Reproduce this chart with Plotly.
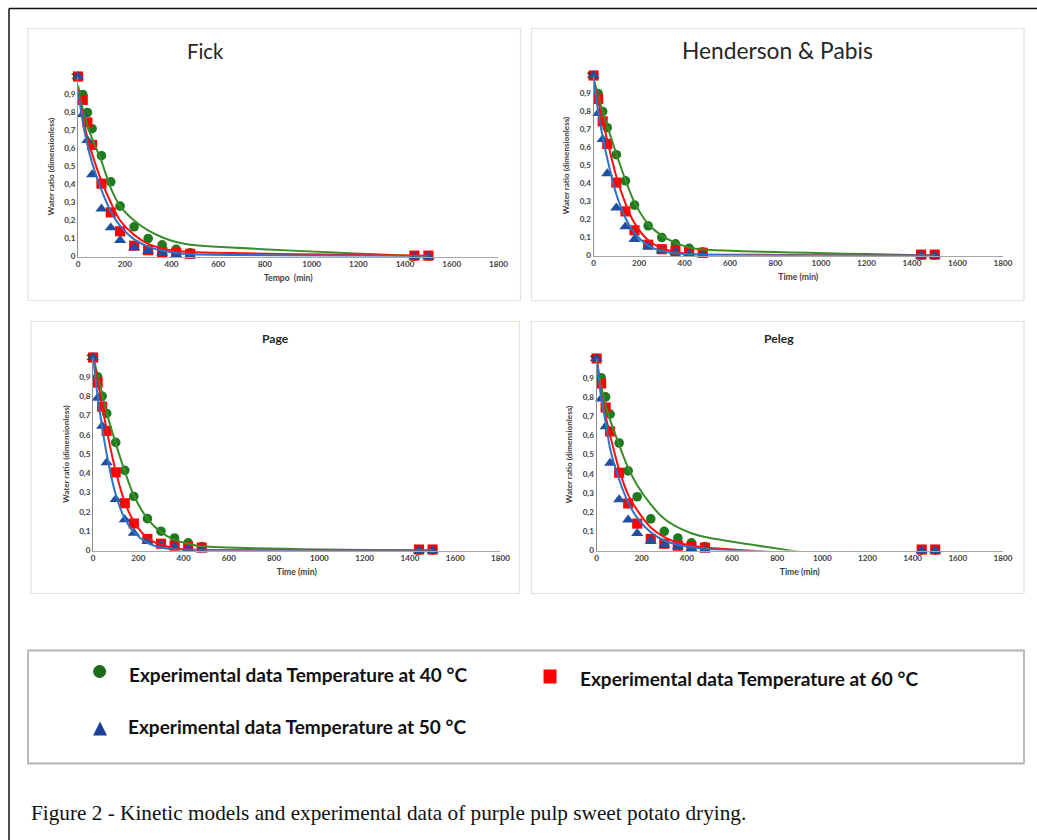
import plotly.graph_objects as go

# reference pixel frame used for all positions
W, H = 1037, 840
# page size (the photographed page is slightly scaled/offset; compensate)
FIG_W, FIG_H = 1050, 850
K = FIG_W / W
DX, DY = -2.0, -4.5

# ---------------- data ----------------
time_min = [0, 20, 40, 60, 100, 140, 180, 240, 300, 360, 420, 480, 1440, 1500]

exp_40 = [1.0, 0.90, 0.80, 0.71, 0.56, 0.415, 0.28, 0.165, 0.10, 0.065, 0.04, 0.02, 0.002, 0.002]
exp_50 = [1.0, 0.79, 0.645, 0.455, 0.265, 0.16, 0.09, 0.05, 0.03, 0.02, 0.01, 0.005, 0.0, 0.0]
exp_60 = [1.0, 0.87, 0.745, 0.62, 0.405, 0.245, 0.14, 0.06, 0.035, 0.025, 0.02, 0.015, 0.005, 0.005]

fick_40 = [0.95, 0.82, 0.73, 0.655, 0.53, 0.38, 0.28, 0.20, 0.145, 0.107, 0.08, 0.065, 0.003, 0.0]
fick_50 = [0.92, 0.75, 0.62, 0.52, 0.37, 0.25, 0.17, 0.095, 0.055, 0.033, 0.02, 0.013, 0.002, 0.001]
fick_60 = [0.93, 0.78, 0.66, 0.57, 0.42, 0.30, 0.20, 0.12, 0.07, 0.045, 0.032, 0.025, 0.005, 0.004]

hp_40 = [0.98, 0.89, 0.80, 0.72, 0.565, 0.42, 0.295, 0.175, 0.11, 0.07, 0.045, 0.033, 0.002, 0.001]
hp_50 = [0.98, 0.80, 0.66, 0.54, 0.34, 0.21, 0.125, 0.055, 0.025, 0.012, 0.006, 0.003, 0.0, 0.0]
hp_60 = [0.98, 0.86, 0.75, 0.64, 0.44, 0.29, 0.18, 0.085, 0.04, 0.02, 0.01, 0.006, 0.0, 0.0]

page_40 = [1.0, 0.91, 0.81, 0.715, 0.555, 0.41, 0.285, 0.165, 0.095, 0.055, 0.035, 0.022, 0.0, 0.0]
page_50 = [1.0, 0.80, 0.64, 0.50, 0.29, 0.165, 0.095, 0.04, 0.016, 0.006, 0.002, 0.001, 0.0, 0.0]
page_60 = [1.0, 0.88, 0.75, 0.625, 0.41, 0.25, 0.15, 0.065, 0.03, 0.012, 0.005, 0.002, 0.0, 0.0]

peleg_40 = [1.0, 0.86, 0.76, 0.68, 0.55, 0.43, 0.34, 0.24, 0.165, 0.12, 0.09, 0.07, -0.10, -0.11]
peleg_50 = [1.0, 0.80, 0.67, 0.53, 0.37, 0.25, 0.17, 0.095, 0.052, 0.03, 0.017, 0.008, -0.036, -0.04]
peleg_60 = [1.0, 0.82, 0.70, 0.60, 0.42, 0.29, 0.21, 0.12, 0.07, 0.042, 0.026, 0.015, -0.053, -0.057]

y_tickvals = [0, 0.1, 0.2, 0.3, 0.4, 0.5, 0.6, 0.7, 0.8, 0.9, 1.0]
y_ticktext = ["0", "0,1", "0,2", "0,3", "0,4", "0,5", "0,6", "0,7", "0,8", "0,9", "1"]
x_tickvals = [0, 200, 400, 600, 800, 1000, 1200, 1400, 1600, 1800]

panel_titles = ["Fick", "Henderson & Pabis", "Page", "Peleg"]
x_titles = ["Tempo  (min)", "Time (min)", "Time (min)", "Time (min)"]
y_title = "Water ratio (dimensionless)"
legend_labels = ["Experimental data Temperature at 40 °C",
                 "Experimental data Temperature at 50 °C",
                 "Experimental data Temperature at 60 °C"]
caption = "Figure 2 - Kinetic models and experimental data of purple pulp sweet potato drying."

models = [(fick_40, fick_50, fick_60), (hp_40, hp_50, hp_60),
          (page_40, page_50, page_60), (peleg_40, peleg_50, peleg_60)]

# ---------------- styling / layout ----------------
GREEN_M, GREEN_L = "#1f7a1f", "#3a8d2a"
BLUE_M, BLUE_L = "#1f4f9e", "#2f73c6"
RED_M, RED_L = "#ff0000", "#ff1010"
FONT = "Lato"
TXT = "#404040"

def fx(p):
    return (p + DX) / W

def fy(p):
    return 1 - (p + DY) / H

def s(v):
    return v * K

# plot-area pixel boxes: (left, right, top, bottom)
boxes = [(78, 498, 76, 256), (593, 1002, 75, 255), (93, 500, 357, 550), (596, 1002, 358, 550)]
# panel frames
frames = [(28, 520, 28, 300), (531, 1023, 28, 300), (31, 519, 321, 593), (531, 1023, 321, 593)]
title_pos = [(205, 50, 20), (777, 50, 22.5), (275, 338, 12), (778, 338, 12)]

fig = go.Figure()

for i in range(4):
    xa = "x" if i == 0 else f"x{i+1}"
    ya = "y" if i == 0 else f"y{i+1}"
    m40, m50, m60 = models[i]
    # experimental markers
    fig.add_trace(go.Scatter(x=time_min, y=exp_40, mode="markers", xaxis=xa, yaxis=ya,
                             marker=dict(symbol="circle", size=s(9.5), color=GREEN_M),
                             cliponaxis=False, showlegend=False))
    fig.add_trace(go.Scatter(x=time_min, y=exp_60, mode="markers", xaxis=xa, yaxis=ya,
                             marker=dict(symbol="square", size=s(10), color=RED_M),
                             cliponaxis=False, showlegend=False))
    fig.add_trace(go.Scatter(x=time_min, y=exp_50, mode="markers", xaxis=xa, yaxis=ya,
                             marker=dict(symbol="triangle-up", size=s(10.5), color=BLUE_M),
                             cliponaxis=False, showlegend=False))
    # model curves
    for yy, col in ((m40, GREEN_L), (m60, RED_L), (m50, BLUE_L)):
        fig.add_trace(go.Scatter(x=time_min, y=yy, mode="lines", xaxis=xa, yaxis=ya,
                                 line=dict(color=col, width=s(2), shape="spline", smoothing=0.8),
                                 showlegend=False))

layout_axes = {}
for i, (l, r, t, b) in enumerate(boxes):
    xk = "xaxis" if i == 0 else f"xaxis{i+1}"
    yk = "yaxis" if i == 0 else f"yaxis{i+1}"
    ya = "y" if i == 0 else f"y{i+1}"
    xa = "x" if i == 0 else f"x{i+1}"
    layout_axes[xk] = dict(domain=[fx(l), fx(r)], range=[0, 1800], anchor=ya,
                           tickvals=x_tickvals, showgrid=False, zeroline=False,
                           showline=True, linecolor="#a6a6a6", linewidth=1, ticks="",
                           tickfont=dict(family=FONT, size=s(8), color=TXT, weight="bold"),
                           title=dict(text=x_titles[i], standoff=s(6),
                                      font=dict(family=FONT, size=s(8.5), color=TXT, weight="bold")),
                           fixedrange=True)
    layout_axes[yk] = dict(domain=[fy(b), fy(t)], range=[0, 1], anchor=xa,
                           tickvals=y_tickvals, ticktext=y_ticktext, showgrid=False,
                           zeroline=False, showline=True, linecolor="#8c8c8c", linewidth=1,
                           ticks="", tickfont=dict(family=FONT, size=s(8), color=TXT, weight="bold"),
                           title=dict(text=y_title, standoff=s(8),
                                      font=dict(family=FONT, size=s(8), color=TXT, weight="bold")),
                           fixedrange=True)

shapes = []
# outer frame
shapes.append(dict(type="line", xref="paper", yref="paper", x0=fx(9), x1=1.0, y0=fy(8), y1=fy(8),
                   line=dict(color="#111111", width=1.5)))
shapes.append(dict(type="line", xref="paper", yref="paper", x0=fx(9), x1=fx(9), y0=fy(8), y1=0,
                   line=dict(color="#111111", width=1.5)))
for (l, r, t, b) in frames:
    shapes.append(dict(type="rect", xref="paper", yref="paper", x0=fx(l), x1=fx(r), y0=fy(b), y1=fy(t),
                       line=dict(color="#e6e1d6", width=1.2)))
# legend box
shapes.append(dict(type="rect", xref="paper", yref="paper", x0=fx(28), x1=fx(1023), y0=fy(763), y1=fy(650),
                   line=dict(color="#b3b3b3", width=1.8)))
# legend symbols
shapes.append(dict(type="circle", xref="paper", yref="paper", x0=fx(93), x1=fx(106), y0=fy(677.5), y1=fy(664.5),
                   fillcolor="#1a6e1a", line=dict(width=0)))
shapes.append(dict(type="rect", xref="paper", yref="paper", x0=fx(543), x1=fx(556), y0=fy(683), y1=fy(669),
                   fillcolor="#ff0000", line=dict(width=0)))
tri = f"M {fx(93)} {fy(735)} L {fx(107)} {fy(735)} L {fx(100)} {fy(721)} Z"
shapes.append(dict(type="path", xref="paper", yref="paper", path=tri,
                   fillcolor="#1a3f9a", line=dict(width=0)))

annotations = []
for (txt, (x, y, sz)) in zip(panel_titles, title_pos):
    annotations.append(dict(text=txt, x=fx(x), y=fy(y), xref="paper", yref="paper", showarrow=False,
                            xanchor="center", yanchor="middle",
                            font=dict(family=FONT, size=s(sz), color="#262626",
                                      weight="bold" if sz < 15 else "normal")))
leg_pos = [(127, 674), (126, 726), (577, 678)]
for txt, (x, y) in zip(legend_labels, leg_pos):
    annotations.append(dict(text=txt, x=fx(x), y=fy(y), xref="paper", yref="paper", showarrow=False,
                            xanchor="left", yanchor="middle",
                            font=dict(family=FONT, size=s(18.8), color="#111111", weight="bold")))
annotations.append(dict(text=caption, x=fx(29), y=fy(812), xref="paper", yref="paper", showarrow=False,
                        xanchor="left", yanchor="middle",
                        font=dict(family="Liberation Serif", size=s(21), color="#111111")))

fig.update_layout(width=FIG_W, height=FIG_H, margin=dict(l=0, r=0, t=0, b=0),
                  paper_bgcolor="white", plot_bgcolor="white", showlegend=False,
                  shapes=shapes, annotations=annotations, **layout_axes)

fig.write_html("out.html", config={"displayModeBar": False},
               post_script="document.documentElement.style.margin='0';"
                           "document.body.style.margin='0';document.body.style.overflow='hidden';")
